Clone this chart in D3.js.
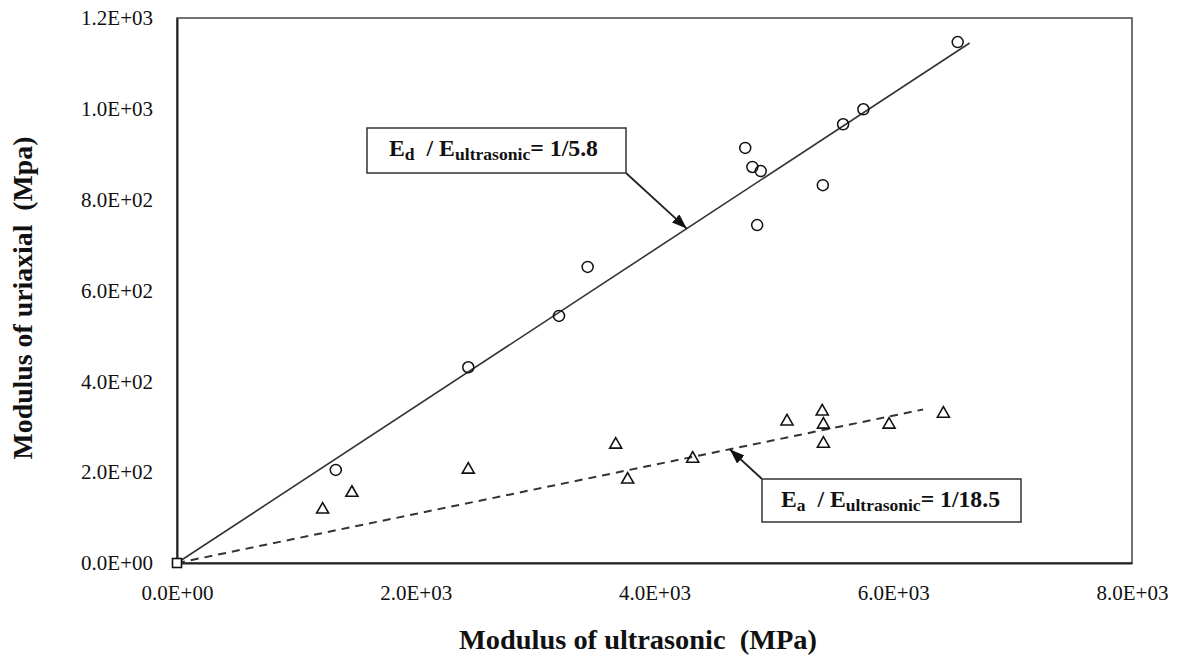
<!DOCTYPE html>
<html>
<head>
<meta charset="utf-8">
<script src="https://cdn.jsdelivr.net/npm/d3@7"></script>
<style>
  html, body { margin: 0; padding: 0; background: #fff; }
  svg { display: block; }
</style>
</head>
<body>
<svg id="chart"></svg>
<script>
// Values (MPa)
const xTicks = [0, 2000, 4000, 6000, 8000];
const xTickLabels = ["0.0E+00", "2.0E+03", "4.0E+03", "6.0E+03", "8.0E+03"];
const yTicks = [0, 200, 400, 600, 800, 1000, 1200];
const yTickLabels = ["0.0E+00", "2.0E+02", "4.0E+02", "6.0E+02", "8.0E+02", "1.0E+03", "1.2E+03"];

// Ed series (circles)
const edPoints = [
    [1330, 205], [2440, 431], [3200, 544], [3440, 652], [4760, 914],
    [4820, 872], [4890, 863], [4860, 744], [5410, 832], [5580, 966],
    [5750, 999], [6540, 1147]
];
// Ea series (triangles)
const eaPoints = [
    [1220, 121], [1465, 158], [2440, 209], [3675, 264], [3775, 187],
    [4320, 233], [5110, 315], [5405, 337], [5415, 308], [5415, 266],
    [5965, 308], [6420, 332]
];
const originPoint = [[0, 0]];

// Trend lines (through origin)
const edTrend = [[0, 0], [6640, 1145]];
const eaTrend = [[0, 0], [6250, 338]];

const width = 1179;
const height = 659;
const font = '"Times New Roman", "Liberation Serif", serif';

const svg = d3.select("#chart").attr("width", width).attr("height", height);

const x = d3.scaleLinear().domain([0, 8000]).range([177, 1132]);
const y = d3.scaleLinear().domain([0, 1200]).range([563, 18]);

// Arrow head
svg.append("defs").append("marker")
    .attr("id", "arrow")
    .attr("markerUnits", "userSpaceOnUse")
    .attr("markerWidth", 16)
    .attr("markerHeight", 12)
    .attr("refX", 15)
    .attr("refY", 5.5)
    .attr("orient", "auto")
    .append("path")
    .attr("d", "M0,0 L15,5.5 L0,11 Z")
    .attr("fill", "#111");

// Plot frame
svg.append("rect")
    .attr("x", x(0))
    .attr("y", y(1200))
    .attr("width", x(8000) - x(0))
    .attr("height", y(0) - y(1200))
    .attr("fill", "none")
    .attr("stroke", "#444")
    .attr("stroke-width", 1.5);

// Axes
const xAxis = svg.append("g")
    .attr("transform", `translate(0,${y(0)})`)
    .call(d3.axisBottom(x).tickValues(xTicks).tickSize(0).tickPadding(22)
        .tickFormat((d, i) => xTickLabels[i]));
const yAxis = svg.append("g")
    .attr("transform", `translate(${x(0)},0)`)
    .call(d3.axisLeft(y).tickValues(yTicks).tickSize(0).tickPadding(24)
        .tickFormat((d, i) => yTickLabels[i]));

[xAxis, yAxis].forEach(g => {
    g.select(".domain").attr("stroke", "#222").attr("stroke-width", 2);
    g.selectAll("text")
        .attr("font-family", font)
        .attr("font-size", "21px")
        .attr("fill", "#111");
});

// Trend lines
const line = d3.line().x(d => x(d[0])).y(d => y(d[1]));

svg.append("path")
    .datum(edTrend)
    .attr("d", line)
    .attr("fill", "none")
    .attr("stroke", "#333")
    .attr("stroke-width", 1.6);

svg.append("path")
    .datum(eaTrend)
    .attr("d", line)
    .attr("fill", "none")
    .attr("stroke", "#333")
    .attr("stroke-width", 2)
    .attr("stroke-dasharray", "8,6");

// Markers
svg.append("g").selectAll("circle")
    .data(edPoints)
    .join("circle")
    .attr("cx", d => x(d[0]))
    .attr("cy", d => y(d[1]))
    .attr("r", 5.5)
    .attr("fill", "none")
    .attr("stroke", "#111")
    .attr("stroke-width", 1.5);

svg.append("g").selectAll("path")
    .data(eaPoints)
    .join("path")
    .attr("transform", d => `translate(${x(d[0])},${y(d[1])})`)
    .attr("d", "M0,-5.5 L6,5 L-6,5 Z")
    .attr("fill", "none")
    .attr("stroke", "#111")
    .attr("stroke-width", 1.6);

svg.append("g").selectAll("rect")
    .data(originPoint)
    .join("rect")
    .attr("x", d => x(d[0]) - 4.5)
    .attr("y", d => y(d[1]) - 4.5)
    .attr("width", 9)
    .attr("height", 9)
    .attr("fill", "#fff")
    .attr("stroke", "#111")
    .attr("stroke-width", 1.6);

// Annotation boxes with arrows
function annotate(box, tip, sub, ratio, textX, textLen) {
    svg.append("line")
        .attr("x1", box.ax).attr("y1", box.ay)
        .attr("x2", tip[0]).attr("y2", tip[1])
        .attr("stroke", "#222")
        .attr("stroke-width", 1.8)
        .attr("marker-end", "url(#arrow)");

    svg.append("rect")
        .attr("x", box.x).attr("y", box.y)
        .attr("width", box.w).attr("height", box.h)
        .attr("fill", "#fff")
        .attr("stroke", "#333")
        .attr("stroke-width", 1.5);

    const t = svg.append("text")
        .attr("x", textX)
        .attr("y", box.y + 28)
        .attr("font-family", font)
        .attr("font-weight", "bold")
        .attr("font-size", "23px")
        .attr("fill", "#111")
        .attr("textLength", textLen)
        .attr("lengthAdjust", "spacingAndGlyphs");
    t.append("tspan").text("E");
    t.append("tspan").attr("font-size", "17px").attr("dy", 4).text(sub);
    t.append("tspan").attr("dy", -4).text("\u00a0 / E");
    t.append("tspan").attr("font-size", "17px").attr("dy", 4).text("ultrasonic");
    t.append("tspan").attr("dy", -4).text("= " + ratio);
}

const edTip = [x(4270), y(4270 * edTrend[1][1] / edTrend[1][0])];
const eaTip = [x(4630), y(4630 * eaTrend[1][1] / eaTrend[1][0])];

annotate({ x: 367, y: 128, w: 259, h: 45, ax: 626, ay: 173 }, edTip, "d", "1/5.8", 389, 209);
annotate({ x: 762, y: 479, w: 259, h: 43, ax: 762, ay: 479 }, eaTip, "a", "1/18.5", 781, 219);

// Axis titles
svg.append("text")
    .attr("x", 638)
    .attr("y", 649)
    .attr("text-anchor", "middle")
    .attr("font-family", font)
    .attr("font-weight", "bold")
    .attr("font-size", "27px")
    .attr("fill", "#111")
    .attr("textLength", 358)
    .attr("lengthAdjust", "spacingAndGlyphs")
    .text("Modulus of ultrasonic\u00a0 (MPa)");

svg.append("text")
    .attr("transform", "translate(32,298) rotate(-90)")
    .attr("text-anchor", "middle")
    .attr("font-family", font)
    .attr("font-weight", "bold")
    .attr("font-size", "27px")
    .attr("fill", "#111")
    .attr("textLength", 323)
    .attr("lengthAdjust", "spacingAndGlyphs")
    .text("Modulus of uriaxial\u00a0 (Mpa)");
</script>
</body>
</html>
